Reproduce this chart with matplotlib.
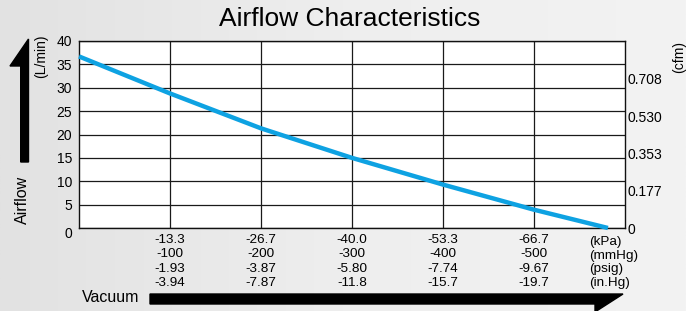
import matplotlib
matplotlib.use("Agg")
import matplotlib.pyplot as plt
import numpy as np
from matplotlib.patches import Polygon
from matplotlib.colors import LinearSegmentedColormap
from matplotlib.transforms import ScaledTranslation

plt.rcParams['font.family'] = ['Liberation Sans', 'DejaVu Sans']

# curve (vacuum in kPa, airflow in L/min)
vacuum_kpa = [0.0, -13.3, -26.7, -40.0, -53.3, -66.7, -77.5]
airflow_lpm = [36.7, 28.8, 21.3, 15.0, 9.3, 3.9, 0.0]

# x ticks and the four unit rows under them
tick_kpa = [-13.33, -26.67, -40.0, -53.33, -66.67]
kpa_labels = ['-13.3', '-26.7', '-40.0', '-53.3', '-66.7']
mmhg_labels = ['-100', '-200', '-300', '-400', '-500']
psig_labels = ['-1.93', '-3.87', '-5.80', '-7.74', '-9.67']
inhg_labels = ['-3.94', '-7.87', '-11.8', '-15.7', '-19.7']
unit_labels = ['(kPa)', '(mmHg)', '(psig)', '(in.Hg)']

# left (L/min) and right (cfm) axes
lpm_ticks = [0, 5, 10, 15, 20, 25, 30, 35, 40]
cfm_ticks = [0, 0.177, 0.353, 0.530, 0.708]
cfm_labels = ['0', '0.177', '0.353', '0.530', '0.708']

W, H = 686, 311
fig = plt.figure(figsize=(W / 100, H / 100), dpi=100)


def px(x, y):
    return (x / W, 1 - y / H)


# light gray gradient backdrop
bg = fig.add_axes([0, 0, 1, 1], zorder=-10)
grad = np.linspace(0, 1, 256).reshape(1, -1)
cmap = LinearSegmentedColormap.from_list('bg', ['#e2e2e2', '#eeeeee', '#f3f3f3'])
bg.imshow(grad, aspect='auto', cmap=cmap, extent=[0, 1, 0, 1])
bg.axis('off')

l, t = px(79, 41)
r, b = px(625, 228)
ax = fig.add_axes([l, b, r - l, t - b])
ax.set_facecolor('white')

ax.plot(vacuum_kpa, airflow_lpm, color='#0ea2e2', lw=3.2,
        solid_capstyle='butt', zorder=5, clip_on=False)

ax.set_xlim(0, -80)
ax.set_ylim(0, 40)
ax.set_yticks(lpm_ticks)
ax.set_yticklabels([str(v) for v in lpm_ticks], fontsize=10)
xlabels = ['\n'.join(row) for row in zip(kpa_labels, mmhg_labels, psig_labels, inhg_labels)]
ax.set_xticks(tick_kpa)
ax.set_xticklabels(xlabels, fontsize=9.7, linespacing=1.28)
ax.tick_params(length=0, pad=5)
ax.tick_params(axis='x', pad=4)
ax.grid(True, color='#1a1a1a', lw=0.9)
for s in ax.spines.values():
    s.set_color('#111111')
    s.set_linewidth(1.0)

# the bottom "0" sits a little lower in the original
zero = ax.get_yticklabels()[0]
zero.set_transform(zero.get_transform() + ScaledTranslation(0, -4 / 100, fig.dpi_scale_trans))

ax2 = ax.twinx()
ax2.set_ylim(0, 0.885)
ax2.set_yticks(cfm_ticks)
ax2.set_yticklabels(cfm_labels, fontsize=10)
ax2.tick_params(length=0, pad=2)
for s in ax2.spines.values():
    s.set_visible(False)

ax.text(0.934, -0.042, '\n'.join(unit_labels), transform=ax.transAxes,
        ha='left', va='top', fontsize=9.7, linespacing=1.2)

fig.text(*px(350, 19), 'Airflow Characteristics', ha='center', va='center', fontsize=19)
fig.text(*px(22, 200), 'Airflow', rotation=90, ha='center', va='center', fontsize=11.5)
fig.text(*px(41, 56), '(L/min)', rotation=90, ha='center', va='center', fontsize=10)
fig.text(*px(679, 57), '(cfm)', rotation=90, ha='center', va='center', fontsize=10)
fig.text(*px(82, 298), 'Vacuum', ha='left', va='center', fontsize=11.5)

# half-headed arrows
up = [px(20.7, 162), px(28.5, 162), px(28.5, 39), px(10, 66), px(20.7, 66)]
fig.patches.append(Polygon(up, closed=True, color='black', transform=fig.transFigure))
right = [px(150, 294), px(623, 294), px(595, 312), px(595, 304), px(150, 304)]
fig.patches.append(Polygon(right, closed=True, color='black', transform=fig.transFigure))

fig.savefig('out.png', dpi=100)
